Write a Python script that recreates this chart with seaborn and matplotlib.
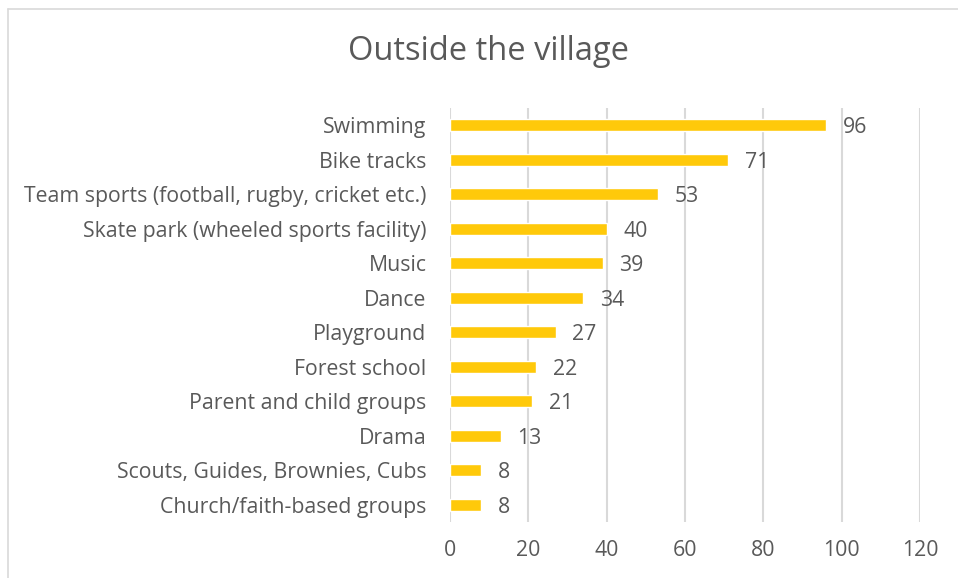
import matplotlib
matplotlib.use("Agg")
import matplotlib.pyplot as plt
import seaborn as sns
import pandas as pd

categories = [
    "Swimming",
    "Bike tracks",
    "Team sports (football, rugby, cricket etc.)",
    "Skate park (wheeled sports facility)",
    "Music",
    "Dance",
    "Playground",
    "Forest school",
    "Parent and child groups",
    "Drama",
    "Scouts, Guides, Brownies, Cubs",
    "Church/faith-based groups",
]
values = [96, 71, 53, 40, 39, 34, 27, 22, 21, 13, 8, 8]
x_ticks = [0, 20, 40, 60, 80, 100, 120]

df = pd.DataFrame({"activity": categories, "count": values})

sns.set_theme(style="white")
plt.rcParams["font.family"] = ["Open Sans", "DejaVu Sans"]

TEXT = "#595959"
GRID = "#d9d9d9"
BAR = "#FFC90A"
FS = 15.3

fig = plt.figure(figsize=(9.58, 5.78), dpi=100)
ax = fig.add_axes([450 / 958, 1 - 522 / 578, 470 / 958, 414 / 578])

sns.barplot(data=df, x="count", y="activity", orient="h", color=BAR,
            width=0.36, saturation=1, ax=ax, zorder=3)

ax.set_xlim(0, 120)
ax.set_xticks(x_ticks)
ax.set_xticklabels([str(t) for t in x_ticks])
ax.set_xlabel("")
ax.set_ylabel("")
ax.grid(axis="x", color=GRID, linewidth=1.5, zorder=0)
ax.grid(axis="y", visible=False)
for s in ax.spines.values():
    s.set_visible(False)
ax.tick_params(axis="y", length=0, pad=17, labelsize=FS, labelcolor=TEXT)
ax.tick_params(axis="x", length=0, pad=13, labelsize=FS, labelcolor=TEXT)

for container in ax.containers:
    texts = ax.bar_label(container, labels=[str(v) for v in values],
                         padding=12, fontsize=FS, color=TEXT)
    for t in texts:
        t.set_va("center_baseline")

fig.text(488 / 958, 1 - 52 / 578, "Outside the village", ha="center",
         va="center", fontsize=23.5, color=TEXT)

# chart area frame
fig.add_artist(plt.Line2D([8 / 958, 1], [1 - 9 / 578, 1 - 9 / 578],
                          transform=fig.transFigure, color=GRID, linewidth=1.2))
fig.add_artist(plt.Line2D([8 / 958, 8 / 958], [0, 1 - 9 / 578],
                          transform=fig.transFigure, color=GRID, linewidth=1.2))

fig.savefig("out.png", dpi=100, facecolor="white")
